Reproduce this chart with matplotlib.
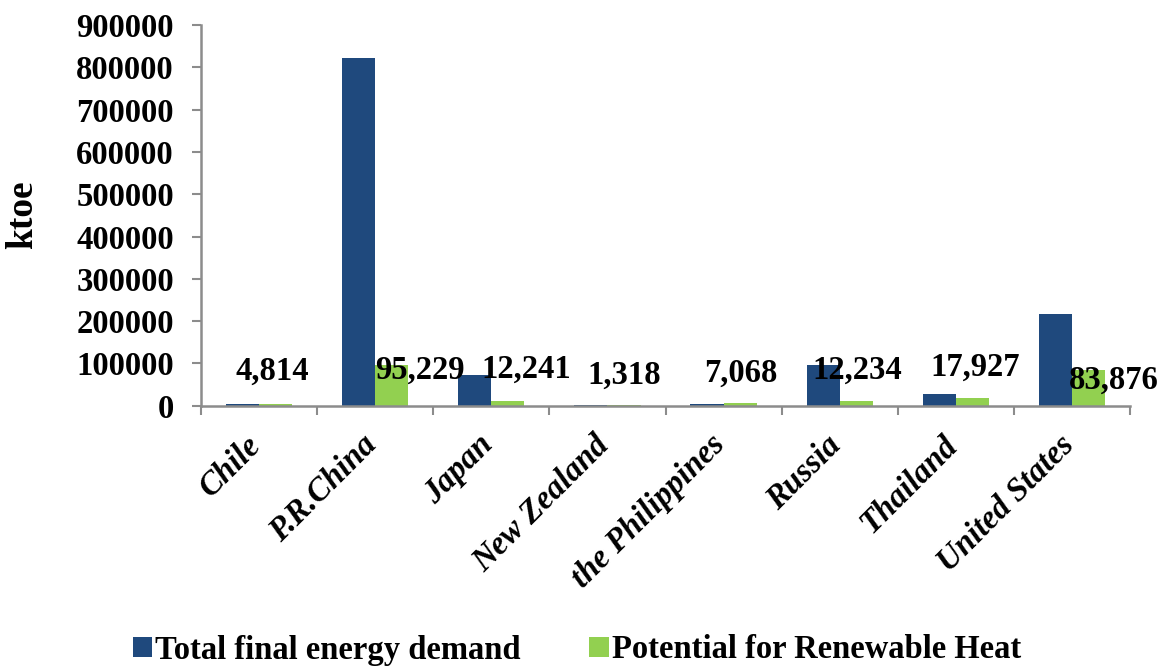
import matplotlib
matplotlib.use("Agg")
import matplotlib.pyplot as plt
import matplotlib.transforms as mtransforms
import numpy as np

# Data (ktoe)
countries = ["Chile", "P.R.China", "Japan", "New Zealand", "the Philippines",
             "Russia", "Thailand", "United States"]
total_demand = [3000, 821000, 72600, 2500, 3500, 96200, 27000, 217000]
renewable_heat = [4814, 95229, 12241, 1318, 7068, 12234, 17927, 83876]
value_labels = ["4,814", "95,229", "12,241", "1,318", "7,068", "12,234", "17,927", "83,876"]
y_ticks = [0, 100000, 200000, 300000, 400000, 500000, 600000, 700000, 800000, 900000]

# Hand-placed label anchors: x shift (px) from the green bar centre, baseline height (ktoe)
label_dx_px = [-3, 28, 18, 0, 1, 1, 3, 25]
label_base = [60800, 63100, 65500, 51300, 56000, 63100, 70900, 41100]

BLUE = "#1F497D"
GREEN = "#92D050"
AXIS_GREY = "#8C8C8C"
SERIF = "Liberation Serif"
FS = 23.5

fig = plt.figure(figsize=(11.62, 6.66), dpi=100)
W, H = 1162, 666
ax = fig.add_axes([201 / W, 1 - 405.7 / H, (1130 - 201) / W, (405.7 - 25) / H])

x = np.arange(len(countries))
bw = 0.285
ax.bar(x - bw / 2, total_demand, width=bw, color=BLUE, label="Total final energy demand",
       zorder=2)
ax.bar(x + bw / 2, renewable_heat, width=bw, color=GREEN,
       label="Potential for Renewable Heat", zorder=2)

ax.set_xlim(-0.5, len(countries) - 0.5)
ax.set_ylim(0, 900000)
ax.set_yticks(y_ticks)
ax.set_yticklabels([str(v) for v in y_ticks], fontfamily=SERIF, fontweight="bold",
                   fontsize=FS)
ax.tick_params(axis="y", direction="out", length=6.5, width=1.5, color=AXIS_GREY, pad=13)

# category labels at centres, tick marks at category boundaries
ax.set_xticks(x)
ax.set_xticklabels(countries, rotation=45, ha="right", va="top", fontfamily=SERIF,
                   fontweight="bold", fontstyle="italic", fontsize=FS)
ax.tick_params(axis="x", which="major", length=0, pad=17)
shift = mtransforms.ScaledTranslation(8 / 100, 0, fig.dpi_scale_trans)
for lbl in ax.get_xticklabels():
    lbl.set_transform(lbl.get_transform() + shift)
ax.set_xticks(np.arange(len(countries) + 1) - 0.5, minor=True)
ax.tick_params(axis="x", which="minor", direction="out", length=6.5, width=1.5,
               color=AXIS_GREY)

for side in ("top", "right"):
    ax.spines[side].set_visible(False)
for side in ("left", "bottom"):
    ax.spines[side].set_color(AXIS_GREY)
    ax.spines[side].set_linewidth(1.8)

# value labels for the renewable heat potential
for i, (txt, dx, yb) in enumerate(zip(value_labels, label_dx_px, label_base)):
    ax.annotate(txt, xy=(x[i] + bw / 2, yb), xytext=(dx * 72 / 100, 0),
                textcoords="offset points", ha="center", va="baseline",
                fontfamily=SERIF, fontweight="bold", fontsize=FS, zorder=3)

fig.text(23 / W, 1 - 215 / H, "ktoe", rotation=90, ha="center", va="center",
         fontfamily=SERIF, fontweight="bold", fontsize=27)

leg = fig.legend(loc="center", bbox_to_anchor=(577 / W, 1 - 650 / H), ncol=2,
                 frameon=False, prop={"family": SERIF, "weight": "bold", "size": FS},
                 handlelength=0.6, handleheight=0.6, handletextpad=0.1,
                 columnspacing=2.1, borderaxespad=0)

fig.savefig("out.png", dpi=100)
